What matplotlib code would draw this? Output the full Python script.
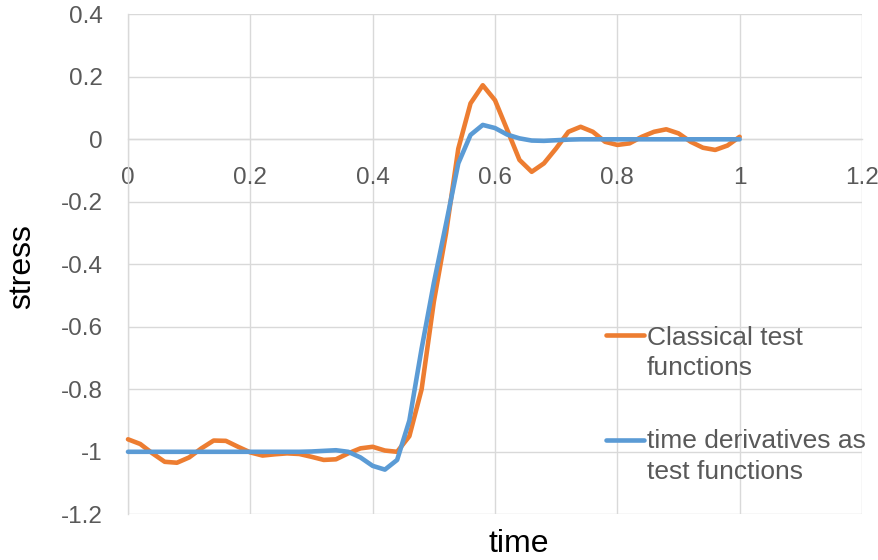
import matplotlib
matplotlib.use("Agg")
import matplotlib.pyplot as plt
from matplotlib.lines import Line2D
from matplotlib.ticker import FuncFormatter

plt.rcParams['font.family'] = ['Liberation Sans', 'DejaVu Sans']
plt.rcParams['axes.unicode_minus'] = False

time = [0.00, 0.02, 0.04, 0.06, 0.08, 0.10, 0.12, 0.14, 0.16, 0.18,
        0.20, 0.22, 0.24, 0.26, 0.28, 0.30, 0.32, 0.34, 0.36, 0.38,
        0.40, 0.42, 0.44, 0.46, 0.48, 0.50, 0.52, 0.54, 0.56, 0.58,
        0.60, 0.62, 0.64, 0.66, 0.68, 0.70, 0.72, 0.74, 0.76, 0.78,
        0.80, 0.82, 0.84, 0.86, 0.88, 0.90, 0.92, 0.94, 0.96, 0.98, 1.00]

classical = [-0.960, -0.975, -1.005, -1.032, -1.035, -1.018, -0.989, -0.964, -0.965, -0.984,
             -1.002, -1.012, -1.008, -1.005, -1.007, -1.016, -1.026, -1.024, -1.005, -0.989,
             -0.984, -0.996, -1.000, -0.950, -0.800, -0.520, -0.300, -0.030, 0.115, 0.173,
             0.125, 0.030, -0.066, -0.104, -0.077, -0.029, 0.024, 0.040, 0.024, -0.008,
             -0.018, -0.013, 0.008, 0.024, 0.032, 0.019, -0.008, -0.027, -0.034, -0.020, 0.008]

derivative = [-1.000, -1.000, -1.000, -1.000, -1.000, -1.000, -1.000, -1.000, -1.000, -1.000,
              -1.000, -1.000, -1.000, -1.000, -1.000, -0.999, -0.997, -0.995, -1.000, -1.018,
              -1.045, -1.057, -1.026, -0.900, -0.670, -0.460, -0.270, -0.077, 0.014, 0.046,
              0.036, 0.015, 0.003, -0.004, -0.005, -0.003, -0.001, 0.000, 0.000, 0.000,
              0.000, 0.000, 0.000, 0.000, 0.000, 0.000, 0.000, 0.000, 0.000, 0.000, 0.000]

series_labels = [["Classical test", "functions"], ["time derivatives as", "test functions"]]
x_ticks = [0, 0.2, 0.4, 0.6, 0.8, 1.0, 1.2]
y_ticks = [0.4, 0.2, 0, -0.2, -0.4, -0.6, -0.8, -1.0, -1.2]

ORANGE = '#ED7D31'
BLUE = '#5B9BD5'
GRID = '#D9D9D9'
TXT = '#595959'

W, H = 879, 560
fig = plt.figure(figsize=(W / 100, H / 100), dpi=100)
ax = fig.add_axes([128 / W, 1 - 514.3 / H, (862 - 128) / W, (514.3 - 14.3) / H])

lw = 3.3
ax.plot(time, classical, color=ORANGE, lw=lw, solid_joinstyle='round', solid_capstyle='round', zorder=3, clip_on=False)
ax.plot(time, derivative, color=BLUE, lw=lw, solid_joinstyle='round', solid_capstyle='round', zorder=4, clip_on=False)

ax.set_xlim(0, 1.2)
ax.set_ylim(-1.2, 0.4)
ax.set_xticks(x_ticks)
ax.set_yticks(y_ticks)
fmt = FuncFormatter(lambda v, p: ('%g' % round(v, 2)).replace('\u2212', '-'))
ax.xaxis.set_major_formatter(fmt)
ax.yaxis.set_major_formatter(fmt)

ax.grid(True, color=GRID, lw=1.0, zorder=0)
ax.set_axisbelow(True)
for s in ['top', 'right']:
    ax.spines[s].set_visible(False)
ax.spines['bottom'].set_position(('data', 0))
ax.spines['bottom'].set_color(GRID)
ax.spines['bottom'].set_linewidth(1.0)
ax.spines['left'].set_color(GRID)
ax.spines['left'].set_linewidth(1.0)

ax.tick_params(axis='x', length=0, pad=20, labelsize=17.5, labelcolor=TXT)
ax.tick_params(axis='y', length=0, pad=18, labelsize=17.5, labelcolor=TXT)

def fx(px):
    return px / W

def fy(py):
    return 1 - py / H

fig.text(fx(22), fy(267), 'stress', rotation=90, ha='center', va='center', fontsize=23, color='black')
fig.text(fx(519), fy(552), 'time', ha='center', va='baseline', fontsize=23, color='black')

legend_rows = [(ORANGE, 335, 345, 375), (BLUE, 440, 448, 479)]
for (col, yh, b1, b2), lines in zip(legend_rows, series_labels):
    fig.add_artist(Line2D([fx(606), fx(644)], [fy(yh), fy(yh)], color=col, lw=lw,
                          solid_capstyle='round', transform=fig.transFigure))
    fig.text(fx(647), fy(b1), lines[0], ha='left', va='baseline', fontsize=19, color=TXT)
    fig.text(fx(647), fy(b2), lines[1], ha='left', va='baseline', fontsize=19, color=TXT)

fig.savefig('out.png', dpi=100)
